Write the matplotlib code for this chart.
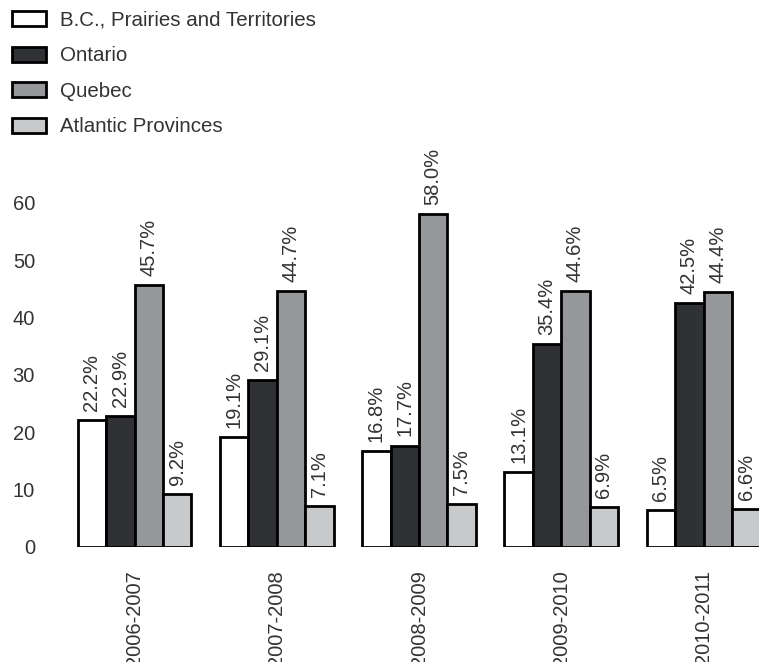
import matplotlib
matplotlib.use("Agg")
import matplotlib.pyplot as plt
from matplotlib.patches import Patch
import numpy as np

plt.rcParams['font.family'] = ['Liberation Sans', 'DejaVu Sans']

years = ["2006-2007", "2007-2008", "2008-2009", "2009-2010", "2010-2011"]
regions = ["B.C., Prairies and Territories", "Ontario", "Quebec", "Atlantic Provinces"]
bc_prairies_territories = [22.2, 19.1, 16.8, 13.1, 6.5]
ontario = [22.9, 29.1, 17.7, 35.4, 42.5]
quebec = [45.7, 44.7, 58.0, 44.6, 44.4]
atlantic = [9.2, 7.1, 7.5, 6.9, 6.6]
y_ticks = [0, 10, 20, 30, 40, 50, 60]

series = [bc_prairies_territories, ontario, quebec, atlantic]
colors = ["#ffffff", "#303135", "#96979a", "#c8c9cb"]
text_color = "#333333"
fs = 14.5
legend_fs = 14.8

W, H = 759, 662
fig = plt.figure(figsize=(W / 100, H / 100), dpi=100)

ax_left, ax_right = 40, 759
y0_px, ytop_px = 547, 140
ax = fig.add_axes([ax_left / W, 1 - y0_px / H, (ax_right - ax_left) / W, (y0_px - ytop_px) / H])

px_per_unit_x = 142.25
center0 = 134.5
ax.set_xlim((ax_left - center0) / px_per_unit_x, (ax_right - center0) / px_per_unit_x)
px_per_unit_y = 344 / 60
ax.set_ylim(0, (y0_px - ytop_px) / px_per_unit_y)

x = np.arange(len(years))
width = 0.2
for i, (vals, col) in enumerate(zip(series, colors)):
    pos = x + (i - 1.5) * width
    ax.bar(pos, vals, width, color=col, edgecolor="black", linewidth=2, zorder=2)
    for px, v in zip(pos, vals):
        ax.annotate(f"{v:.1f}%", xy=(px, v), xytext=(0, 6.5), textcoords="offset points",
                    rotation=90, ha="center", va="bottom", fontsize=fs,
                    color=text_color, annotation_clip=False)

for s in ax.spines.values():
    s.set_visible(False)
ax.set_yticks(y_ticks)
ax.set_yticklabels([str(t) for t in y_ticks])
ax.set_xticks(x)
ax.set_xticklabels(years, rotation=90)
ax.tick_params(axis="y", length=0, pad=3.6, labelsize=fs, labelcolor=text_color)
ax.tick_params(axis="x", length=0, pad=16.5, labelsize=fs, labelcolor=text_color)

handles = [Patch(facecolor=c, edgecolor="black", linewidth=2) for c in colors]
fig.legend(handles, regions, loc="upper left", bbox_to_anchor=(12 / W, 1 - 11 / H),
           frameon=False, fontsize=legend_fs, labelcolor=text_color, borderpad=0,
           borderaxespad=0, handlelength=1.66, handleheight=0.73,
           handletextpad=0.68, labelspacing=0.8)

fig.savefig("out.png", dpi=100)
